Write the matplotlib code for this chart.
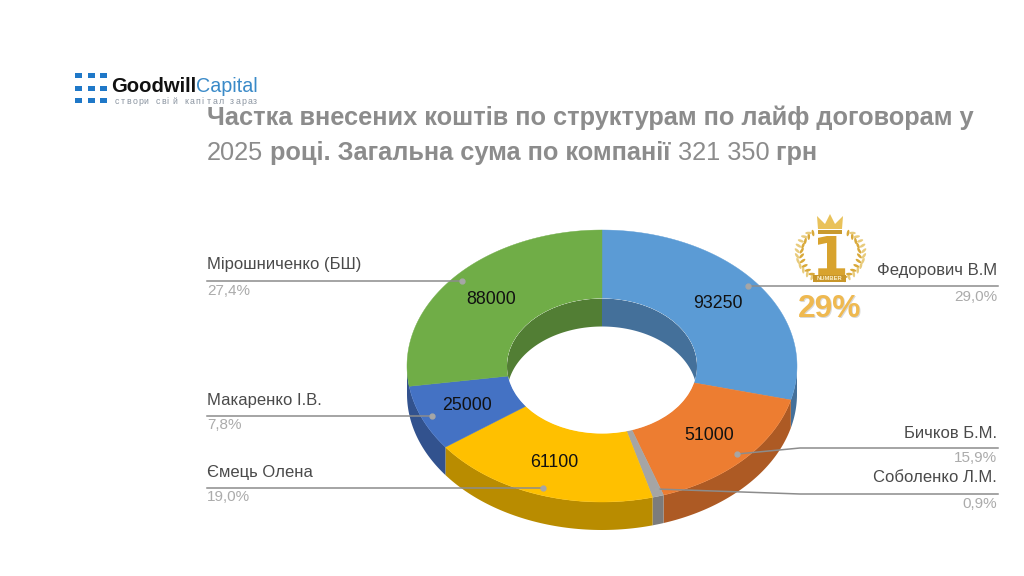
#!/usr/bin/env python3
# Doughnut of contributions by structure, drawn as a tilted 3D ring on a pixel-sized canvas.

import numpy as np
import matplotlib
matplotlib.use('Agg')
import matplotlib.pyplot as plt
from matplotlib.patches import Ellipse, Polygon, Rectangle

plt.rcParams['font.family'] = ['Liberation Sans', 'DejaVu Sans']

names = ['Федорович В.М', 'Бичков Б.М.', 'Соболенко Л.М.', 'Ємець Олена', 'Макаренко І.В.', 'Мірошниченко (БШ)']
values = [93250, 51000, 3000, 61100, 25000, 88000]
shares = ['29,0%', '15,9%', '0,9%', '19,0%', '7,8%', '27,4%']
value_labels = ['93250', '51000', '', '61100', '25000', '88000']
top_colors = ['#5B9BD5', '#ED7D31', '#A5A5A5', '#FFC000', '#4472C4', '#70AD47']
side_colors = ['#44709A', '#AD5A24', '#7C7C7C', '#B98C00', '#32528E', '#527E34']

# digits come out lighter than the words in the heading
title_runs = [[('Частка внесених коштів по структурам по лайф договорам у', 'bold')],
              [('2025', 'normal'), (' році. Загальна сума по компанії ', 'bold'),
               ('321 350', 'normal'), (' грн', 'bold')]]

# ring geometry in canvas pixels
CX, CY = 602, 366
RX, RY = 195, 136
IN_RX, IN_RY = 95, 67.5
DEPTH = 28


def rim(t, rx, ry, drop=0):
    return np.column_stack([CX + rx * np.sin(t), CY - ry * np.cos(t) + drop])


fig = plt.figure(figsize=(10.24, 5.76), dpi=100)
ax = fig.add_axes([0, 0, 1, 1])
ax.set_xlim(0, 1024)
ax.set_ylim(576, 0)
ax.axis('off')

# slice limits, clockwise from 12 o'clock
edges = np.radians(np.concatenate([[0], np.cumsum(values) / np.sum(values) * 360]))

# outer wall, only the front half shows; the slice before the last one runs on to the left edge
for i in range(len(values) - 1):
    a = max(edges[i], np.pi / 2)
    b = 1.5 * np.pi if i == len(values) - 2 else min(edges[i + 1], 1.5 * np.pi)
    if a >= b:
        continue
    t = np.linspace(a, b, 60)
    pts = np.vstack([rim(t, RX, RY), rim(t[::-1], RX, RY, DEPTH)])
    ax.add_patch(Polygon(pts, fc=side_colors[i], ec='none', zorder=2))

# top faces
for i in range(len(values)):
    t = np.linspace(edges[i], edges[i + 1], 120)
    pts = np.vstack([rim(t, RX, RY), rim(t[::-1], IN_RX, IN_RY)])
    ax.add_patch(Polygon(pts, fc=top_colors[i], ec=top_colors[i], lw=0.3, zorder=3))

# the hole, with the back half of its inner wall clipped to it
hole = Ellipse((CX, CY), 2 * IN_RX, 2 * IN_RY, fc='white', ec='none', zorder=4)
ax.add_patch(hole)
for i in range(len(values)):
    spans = [(edges[i], min(edges[i + 1], np.pi / 2)),
             (max(edges[i], 1.5 * np.pi), edges[i + 1])]
    for a, b in spans:
        if a >= b:
            continue
        t = np.linspace(a, b, 60)
        pts = np.vstack([rim(t, IN_RX, IN_RY), rim(t[::-1], IN_RX, IN_RY, DEPTH)])
        wall = Polygon(pts, fc=side_colors[i], ec='none', zorder=5)
        ax.add_patch(wall)
        wall.set_clip_path(hole)

# values sit at the same relative radius on each slice
for i, label in enumerate(value_labels):
    if label:
        mid = (edges[i] + edges[i + 1]) / 2
        x, y = rim(np.array([mid]), RX * 0.75, RY * 0.75)[0]
        ax.text(x, y, label, ha='center', va='center', fontsize=12.8, color='#111111', zorder=7)

# leader lines and their labels
leaders = [[(748, 286), (998, 286)],
           [(737, 454), (800, 448), (998, 448)],
           [(656, 489), (800, 494), (998, 494)],
           [(543, 488), (207, 488)],
           [(432, 416), (207, 416)],
           [(462, 281), (207, 281)]]
for path in leaders:
    xs, ys = zip(*path)
    ax.plot(xs, ys, color='#8C8C8C', lw=1.1, zorder=6)
    ax.plot(xs[0], ys[0], 'o', color='#A6A6A6', ms=3.5, zorder=6)

label_spots = [(997, 271, 297), (997, 433, 458), (997, 478, 504),
               (207, 472, 497), (207, 400, 425), (207, 265, 291)]
for name, share, (x, y_name, y_share) in zip(names, shares, label_spots):
    ha = 'right' if x > 500 else 'left'
    ax.text(x, y_name, name, ha=ha, va='center', fontsize=12, color='#4A4A4A')
    ax.text(x, y_share, share, ha=ha, va='center', fontsize=11, color='#ABABAB')

# heading, written run by run so each weight follows on from the last
renderer = fig.canvas.get_renderer()
for runs, y in zip(title_runs, [118, 153]):
    x = 207
    for piece, weight in runs:
        ax.text(x, y, piece, ha='left', va='center', fontsize=18.3, fontweight=weight, color='#8C8C8C')
        advance = ax.text(0, 0, piece.replace(' ', '\u00a0'), fontsize=18.3, fontweight=weight, alpha=0)
        x += advance.get_window_extent(renderer).width
        advance.remove()

# logo
for lx in [78, 91, 103]:
    for ly in [75, 88, 100]:
        ax.add_patch(Rectangle((lx - 3.5, ly - 2.5), 7, 5, fc='#1F78C8', ec='none'))
ax.text(111, 87, 'Goodwill', ha='left', va='center', fontsize=14.6, fontweight='bold', color='#111111')
ax.text(196, 87, 'Capital', ha='left', va='center', fontsize=14.2, color='#3A8AC8')
tagline = 'створи свій капітал зараз'
for k, ch in enumerate(tagline):
    ax.text(115 + k * 5.75, 102, ch, ha='left', va='center', fontsize=6.3, color='#8A94A0')

# winner badge: wreath, crown, numeral
for side in (-1, 1):
    for ang in np.radians(np.arange(-70, 62, 11)):
        ex = 830.5 + side * 31 * np.cos(ang)
        ey = 254 - 27 * np.sin(ang)
        ax.add_patch(Ellipse((ex - side * 2, ey), 6.5, 2.6, angle=side * (np.degrees(ang) + 50), fc='#D9A93A', ec='none'))
        ax.add_patch(Ellipse((ex + side * 2.5, ey), 6.5, 2.6, angle=side * (np.degrees(ang) - 50), fc='#E8CB7C', ec='none'))
crown = [(818, 229), (817, 216), (825, 224), (830, 214), (835, 224), (843, 216), (842, 229)]
ax.add_patch(Polygon(crown, fc='#E9C25A', ec='none'))
ax.add_patch(Rectangle((818, 229.5), 24, 4, fc='#C99A2E', ec='none'))
ax.text(830, 275, '1', ha='center', va='baseline', fontsize=38, fontweight='bold',
        family='DejaVu Sans', color='#D8A32E')
ax.add_patch(Rectangle((813, 275), 33, 6.5, fc='#C8962A', ec='none'))
ax.text(829.5, 278.2, 'NUMBER', ha='center', va='center', fontsize=4.2, fontweight='bold', color='#FBEFC8')
ax.text(830.8, 310.4, '29%', ha='center', va='center', fontsize=22.8, fontweight='bold', color='#D9D9D9')
ax.text(830, 309, '29%', ha='center', va='center', fontsize=22.8, fontweight='bold', color='#EFB950')

fig.savefig('out.png', dpi=100)
